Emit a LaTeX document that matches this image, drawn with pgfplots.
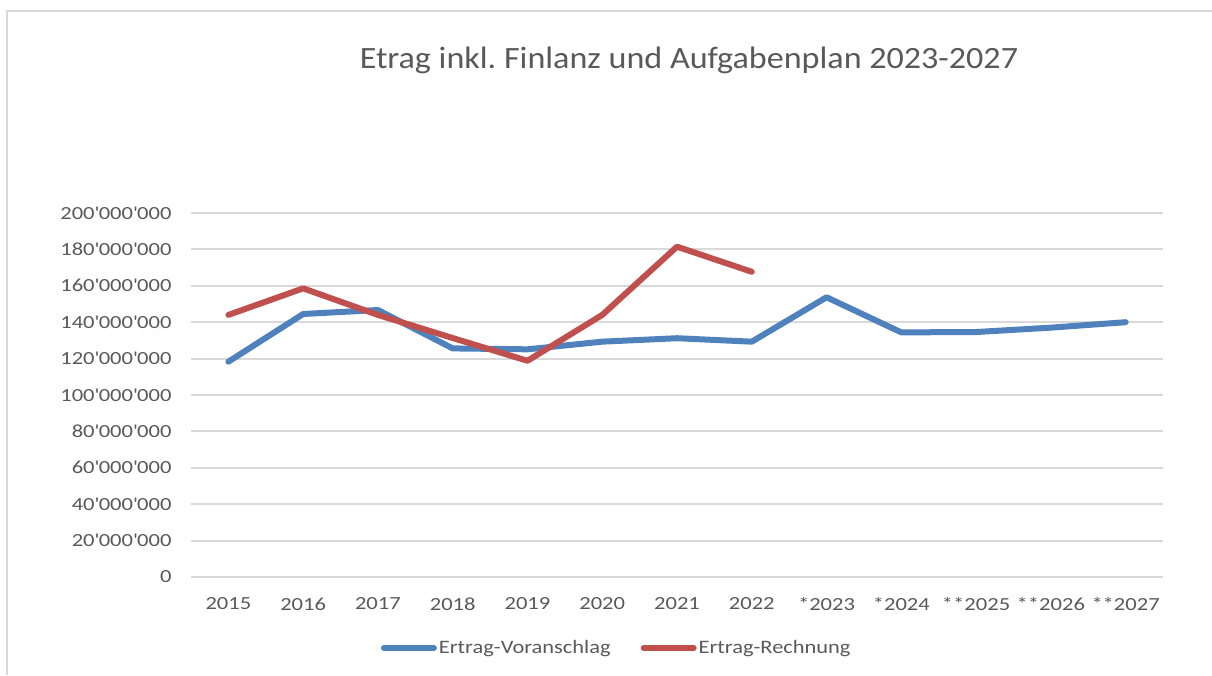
\documentclass[border=0pt]{standalone}
\usepackage{pgfplots}
\pgfplotsset{compat=1.18}
\usepackage{fontspec}
\setmainfont{Carlito}
\newfontfamily\titlefont[FakeStretch=1.10]{Carlito}
\newfontfamily\tickfont[FakeStretch=1.22]{Carlito}
\newfontfamily\legfont[FakeStretch=1.18]{Carlito}
\definecolor{txtgray}{RGB}{89,89,89}
\definecolor{gridgray}{RGB}{217,217,217}
\definecolor{serblue}{RGB}{79,129,189}
\definecolor{serred}{RGB}{192,80,77}
\frenchspacing
\begin{document}
\begin{tikzpicture}[x=1pt,y=1pt]
\path[use as bounding box] (0,0) rectangle (1212,675);
\draw[gridgray,line width=2pt] (7,0) -- (7,664) -- (1212,664);
\node[txtgray,font=\titlefont\fontsize{31}{36}\selectfont] at (689,615) {Etrag inkl. Finlanz und Aufgabenplan 2023-2027};
\begin{axis}[
  at={(191pt,98pt)}, anchor=south west,
  width=972pt, height=364pt, scale only axis,
  xmin=-0.5, xmax=12.5, ymin=0, ymax=200000000,
  xtick={0,...,12},
  xticklabels={2015,2016,2017,2018,2019,2020,2021,2022,*2023,*2024,**2025,**2026,**2027},
  ytick={0,20000000,40000000,60000000,80000000,100000000,120000000,140000000,160000000,180000000,200000000},
  scaled y ticks=false,
  yticklabel style={/pgf/number format/fixed,/pgf/number format/1000 sep={\textquotesingle},/pgf/number format/assume math mode=true},
  ymajorgrids, grid style={gridgray,line width=2pt},
  axis line style={draw=none},
  axis x line*=bottom, axis y line*=left,
  major tick length=0pt,
  tick label style={txtgray,font=\tickfont\fontsize{18.5}{22}\selectfont},
  xticklabel style={yshift=-17pt},
  yticklabel style={xshift=-16pt},
  legend style={at={(0.438,-0.195)}, anchor=center, draw=none, fill=none, legend columns=2,
    font=\legfont\fontsize{19}{22}\selectfont, text=txtgray,
    /tikz/every even column/.append style={column sep=28pt}},
  legend image code/.code={\draw[#1] (0pt,0pt) -- (50pt,0pt);},
  clip=false,
]
\addplot[serblue, line width=6pt, line cap=round, line join=round] coordinates {
(0,118.3e6) (1,144.5e6) (2,146.7e6) (3,125.6e6) (4,125.1e6) (5,129.3e6) (6,131.2e6) (7,129.3e6) (8,153.7e6) (9,134.4e6) (10,134.6e6) (11,137.0e6) (12,140.0e6)};
\addlegendentry{Ertrag-Voranschlag}
\addplot[serred, line width=6pt, line cap=round, line join=round] coordinates {
(0,144.0e6) (1,158.6e6) (2,144.0e6) (3,131.3e6) (4,118.8e6) (5,144.0e6) (6,181.5e6) (7,167.7e6)};
\addlegendentry{Ertrag-Rechnung}
\draw[gridgray,line width=2pt] (rel axis cs:0,0) -- (rel axis cs:1,0);
\end{axis}
\end{tikzpicture}
\end{document}
